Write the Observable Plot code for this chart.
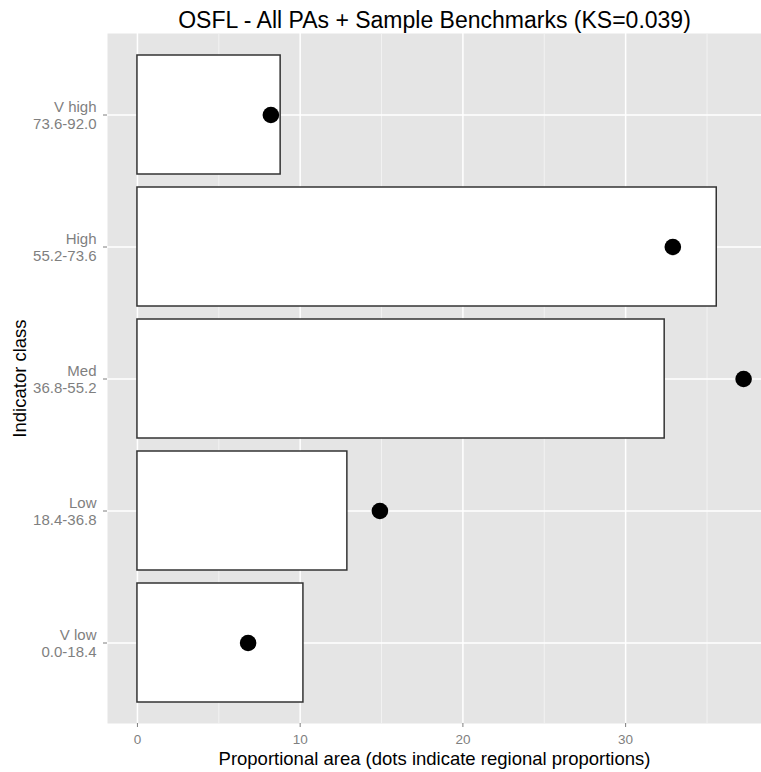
<!DOCTYPE html>
<html>
<head>
<meta charset="utf-8">
<script src="https://cdn.jsdelivr.net/npm/d3@7"></script>
<script src="https://cdn.jsdelivr.net/npm/@observablehq/plot@0.6"></script>
<style>
  html, body { margin: 0; padding: 0; background: #fff; }
  #chart svg { display: block; }
</style>
</head>
<body>
<div id="chart"></div>
<script>
// Data
const classes = ["V low", "Low", "Med", "High", "V high"];
const ranges = ["0.0-18.4", "18.4-36.8", "36.8-55.2", "55.2-73.6", "73.6-92.0"];
const paArea = [10.2, 12.9, 32.4, 35.6, 8.8];        // bars: proportional area in PAs
const regionalProp = [6.8, 14.9, 37.25, 32.9, 8.2]; // dots: regional proportions
const xTicks = [0, 10, 20, 30];
const xMinorTicks = [5, 15, 25, 35];
const title = "OSFL - All PAs + Sample Benchmarks (KS=0.039)";
const xLabel = "Proportional area (dots indicate regional proportions)";
const yLabel = "Indicator class";

const labels = classes.map((c, i) => c + "\n" + ranges[i]);
const data = classes.map((c, i) => ({label: labels[i], area: paArea[i], regional: regionalProp[i]}));

const font = "'Liberation Sans', Arial, sans-serif";
const axisGrey = "#7f7f7f";

const chart = Plot.plot({
  width: 761,
  height: 772,
  marginTop: 33,
  marginBottom: 49,
  marginLeft: 107,
  marginRight: 0,
  style: {fontFamily: font, background: "#fff", overflow: "visible"},
  x: {domain: [-1.84, 38.35], label: null},
  y: {domain: labels.slice().reverse(), paddingInner: 0.1, paddingOuter: 0.15, label: null},
  marks: [
    Plot.frame({fill: "#e5e5e5", stroke: null}),
    Plot.gridX(xMinorTicks, {stroke: "#f2f2f2", strokeOpacity: 1, strokeWidth: 1}),
    Plot.gridX(xTicks, {stroke: "#ffffff", strokeOpacity: 1, strokeWidth: 1.5}),
    Plot.gridY({stroke: "#ffffff", strokeOpacity: 1, strokeWidth: 1.5}),
    Plot.barX(data, {x: "area", y: "label", fill: "#ffffff", stroke: "#333333", strokeWidth: 1.5}),
    Plot.dot(data, {x: "regional", y: "label", r: 8.3, fill: "#000000", stroke: null}),
    // axis tick marks (labels drawn as text marks below for exact sizing)
    Plot.axisX(xTicks, {tickSize: 4, stroke: axisGrey, text: null, label: null}),
    Plot.axisY({tickSize: 4, stroke: axisGrey, text: null, label: null}),
    Plot.text(xTicks, {x: d => d, frameAnchor: "bottom", dy: 16.5, lineAnchor: "middle",
      text: d => String(d), fontSize: 13.5, fill: axisGrey}),
    Plot.text(labels, {y: d => d, frameAnchor: "left", dx: -11, textAnchor: "end", lineAnchor: "middle",
      lineHeight: 1.1, text: d => d, fontSize: 15, fill: axisGrey}),
    Plot.text([title], {frameAnchor: "top", dy: -22, fill: "#000", text: d => d, fontSize: 23}),
    Plot.text([xLabel], {frameAnchor: "bottom", dy: 41, fill: "#000", text: d => d, fontSize: 18.5}),
    Plot.text([yLabel], {frameAnchor: "left", dx: -87, rotate: -90, textAnchor: "middle",
      fill: "#000", text: d => d, fontSize: 18.5})
  ]
});
document.getElementById("chart").appendChild(chart);
</script>
</body>
</html>
